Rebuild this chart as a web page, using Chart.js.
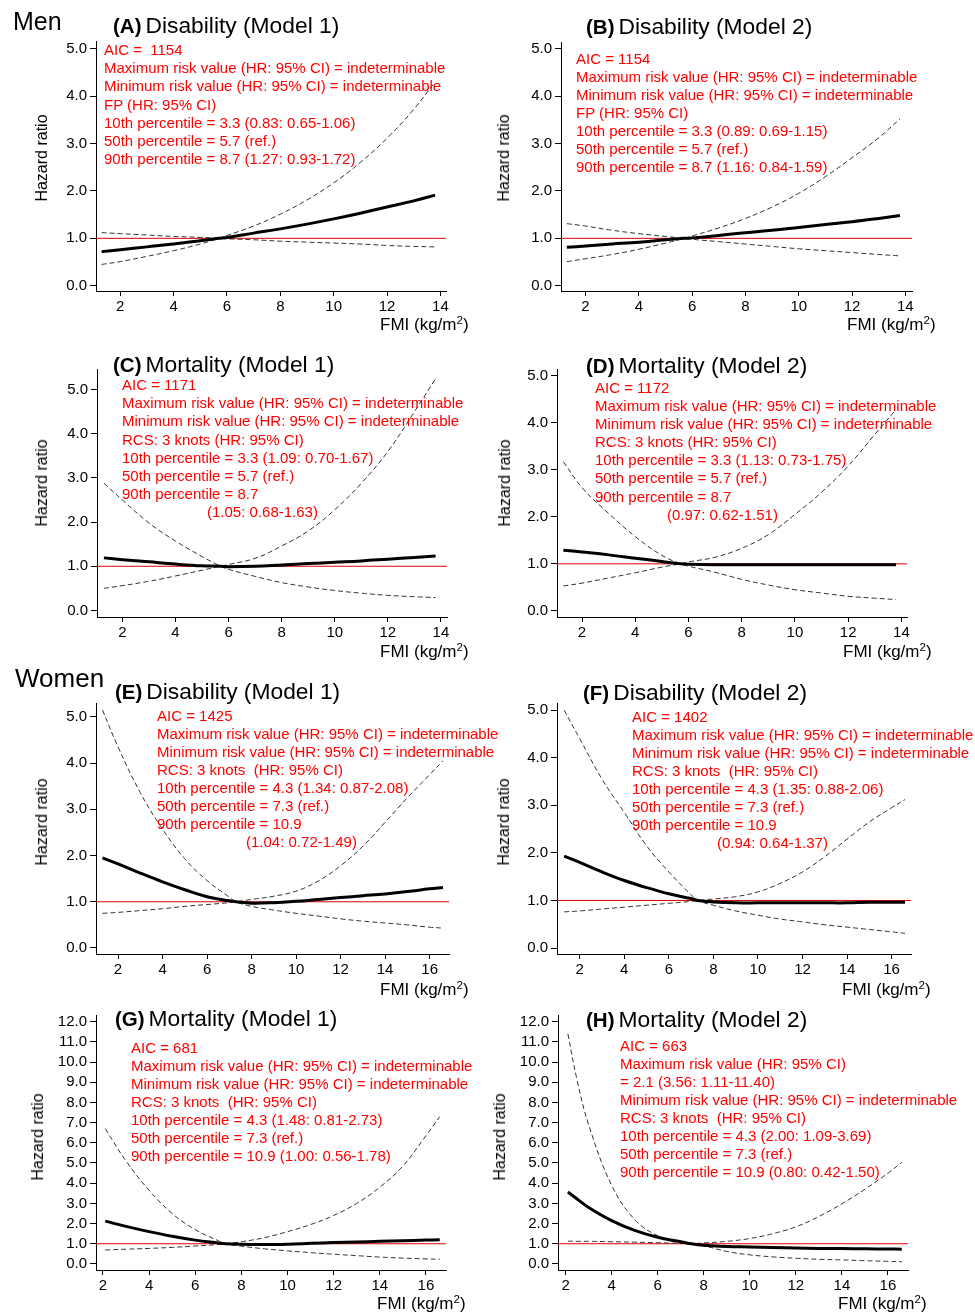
<!DOCTYPE html>
<html>
<head>
<meta charset="UTF-8">
<title>FMI and hazard ratio</title>
<script src="https://cdn.jsdelivr.net/npm/chart.js"></script>
<style>
body { margin:0; background:#fff; font-family:"Liberation Sans", Arial, Helvetica, sans-serif; }
#wrap { position:relative; width:975px; height:1314px; overflow:hidden; }
#wrap canvas { position:absolute; }
.grp { position:absolute; white-space:pre; color:#000; line-height:28px; }
.ttl { position:absolute; white-space:pre; color:#000; font-size:22.8px; line-height:26px; }
.ttl b { font-size:20.5px; margin-right:4px; }
.note { position:absolute; white-space:pre; color:#f00; font-size:15px; }
.yt { position:absolute; white-space:nowrap; font-size:16px; line-height:18px; transform:translate(-50%,-50%) rotate(-90deg); }
.xt { position:absolute; white-space:nowrap; font-size:17px; line-height:20px; }
.xt span { font-size:11.5px; position:relative; top:-6px; }
</style>
</head>
<body>
<div id="wrap"></div>
<script>
// x grid (FMI, kg/m2)
const fmiMen = [1.3, 2, 3, 4, 5, 5.7, 6, 7, 8, 9, 10, 11, 12, 13, 13.8];
const fmiWomen = [1.3, 2, 3, 4, 5, 6, 7, 7.3, 8, 9, 10, 11, 12, 13, 14, 15, 16, 16.6];
const fmiWomenMort = [2.1, 3, 4, 5, 6, 7, 7.3, 8, 9, 10, 11, 12, 13, 14, 15, 16, 16.6];
const fmiH = [2.1, 2.5, 3, 4, 5, 6, 7, 7.3, 8, 9, 10, 11, 12, 13, 14, 15, 16, 16.6];

// ticks
const refHR = 1.0;
const yTicks5 = [0, 1, 2, 3, 4, 5];
const yTicks12 = [0, 1, 2, 3, 4, 5, 6, 7, 8, 9, 10, 11, 12];
const xTicksMen = [2, 4, 6, 8, 10, 12, 14];
const xTicksWomen = [2, 4, 6, 8, 10, 12, 14, 16];

// (A) men disability model 1
const hrA   = [0.72, 0.76, 0.82, 0.88, 0.95, 1.00, 1.02, 1.11, 1.20, 1.30, 1.41, 1.53, 1.66, 1.79, 1.91];
const riseA = [0.45, 0.51, 0.62, 0.74, 0.88, 1.00, 1.06, 1.26, 1.51, 1.81, 2.17, 2.60, 3.11, 3.72, 4.30];
const fallA = [1.12, 1.10, 1.07, 1.04, 1.02, 1.00, 0.99, 0.97, 0.94, 0.92, 0.90, 0.88, 0.85, 0.83, 0.82];
// (B) men disability model 2
const hrB   = [0.81, 0.84, 0.88, 0.92, 0.97, 1.00, 1.01, 1.06, 1.12, 1.17, 1.23, 1.29, 1.35, 1.42, 1.48];
const riseB = [0.51, 0.57, 0.66, 0.77, 0.90, 1.00, 1.05, 1.22, 1.42, 1.66, 1.95, 2.30, 2.70, 3.12, 3.52];
const fallB = [1.31, 1.26, 1.17, 1.10, 1.04, 1.00, 0.98, 0.93, 0.88, 0.83, 0.78, 0.74, 0.70, 0.66, 0.63];
// (C) men mortality model 1
const hrC   = [1.19, 1.15, 1.10, 1.05, 1.01, 1.00, 0.99, 1.00, 1.03, 1.06, 1.09, 1.12, 1.16, 1.20, 1.23];
const riseC = [0.50, 0.56, 0.66, 0.78, 0.91, 1.00, 1.04, 1.18, 1.46, 1.80, 2.28, 2.88, 3.60, 4.50, 5.25];
const fallC = [2.88, 2.50, 1.98, 1.57, 1.22, 1.00, 0.93, 0.77, 0.63, 0.53, 0.45, 0.39, 0.34, 0.31, 0.29];
// (D) men mortality model 2
const hrD   = [1.29, 1.25, 1.19, 1.12, 1.05, 1.00, 0.99, 0.98, 0.98, 0.98, 0.98, 0.98, 0.98, 0.98, 0.98];
const riseD = [0.53, 0.59, 0.70, 0.81, 0.93, 1.00, 1.04, 1.14, 1.33, 1.62, 2.05, 2.52, 3.08, 3.75, 4.28];
const fallD = [3.17, 2.62, 2.07, 1.58, 1.18, 1.00, 0.95, 0.82, 0.67, 0.55, 0.45, 0.38, 0.31, 0.27, 0.24];
// (E) women disability model 1
const hrE   = [1.95, 1.82, 1.62, 1.43, 1.26, 1.11, 1.02, 1.00, 0.97, 0.98, 1.01, 1.05, 1.09, 1.13, 1.17, 1.22, 1.28, 1.31];
const riseE = [0.75, 0.77, 0.81, 0.85, 0.90, 0.94, 0.98, 1.00, 1.05, 1.12, 1.23, 1.45, 1.78, 2.20, 2.72, 3.25, 3.75, 4.05];
const fallE = [5.15, 4.35, 3.36, 2.57, 1.93, 1.46, 1.10, 1.00, 0.90, 0.82, 0.75, 0.69, 0.63, 0.58, 0.54, 0.50, 0.45, 0.43];
// (F) women disability model 2
const hrF   = [1.93, 1.80, 1.60, 1.42, 1.27, 1.14, 1.04, 1.00, 0.97, 0.95, 0.95, 0.95, 0.95, 0.95, 0.95, 0.96, 0.96, 0.96];
const riseF = [0.76, 0.78, 0.82, 0.86, 0.90, 0.94, 0.98, 1.00, 1.03, 1.08, 1.18, 1.36, 1.60, 1.92, 2.29, 2.65, 2.95, 3.12];
const fallF = [5.00, 4.40, 3.55, 2.85, 2.15, 1.60, 1.12, 1.00, 0.90, 0.78, 0.69, 0.61, 0.55, 0.49, 0.44, 0.39, 0.34, 0.31];
// (G) women mortality model 1
const hrG   = [2.12, 1.86, 1.60, 1.37, 1.18, 1.04, 1.00, 0.97, 0.96, 0.98, 1.02, 1.06, 1.09, 1.12, 1.15, 1.18, 1.20];
const riseG = [0.69, 0.73, 0.77, 0.82, 0.89, 0.96, 1.00, 1.10, 1.30, 1.60, 1.95, 2.40, 3.00, 3.80, 4.85, 6.35, 7.30];
const fallG = [6.70, 5.10, 3.65, 2.50, 1.70, 1.15, 1.00, 0.88, 0.75, 0.65, 0.56, 0.48, 0.41, 0.34, 0.29, 0.25, 0.23];
// (H) women mortality model 2
const hrH   = [3.56, 3.22, 2.80, 2.15, 1.66, 1.32, 1.10, 1.03, 0.92, 0.87, 0.84, 0.81, 0.79, 0.77, 0.76, 0.75, 0.74, 0.73];
const riseH = [1.13, 1.12, 1.12, 1.10, 1.08, 1.05, 1.02, 1.00, 1.04, 1.12, 1.26, 1.50, 1.84, 2.35, 2.98, 3.70, 4.50, 5.03];
const fallH = [11.4, 9.10, 6.90, 3.90, 2.20, 1.40, 1.10, 1.03, 0.90, 0.62, 0.45, 0.35, 0.28, 0.23, 0.20, 0.16, 0.13, 0.11];

// annotations
const noteA = ["AIC =  1154", "Maximum risk value (HR: 95% CI) = indeterminable", "Minimum risk value (HR: 95% CI) = indeterminable",
  "FP (HR: 95% CI)", "10th percentile = 3.3 (0.83: 0.65-1.06)", "50th percentile = 5.7 (ref.)", "90th percentile = 8.7 (1.27: 0.93-1.72)"];
const noteB = ["AIC = 1154", "Maximum risk value (HR: 95% CI) = indeterminable", "Minimum risk value (HR: 95% CI) = indeterminable",
  "FP (HR: 95% CI)", "10th percentile = 3.3 (0.89: 0.69-1.15)", "50th percentile = 5.7 (ref.)", "90th percentile = 8.7 (1.16: 0.84-1.59)"];
const noteC = ["AIC = 1171", "Maximum risk value (HR: 95% CI) = indeterminable", "Minimum risk value (HR: 95% CI) = indeterminable",
  "RCS: 3 knots (HR: 95% CI)", "10th percentile = 3.3 (1.09: 0.70-1.67)", "50th percentile = 5.7 (ref.)", "90th percentile = 8.7", "(1.05: 0.68-1.63)"];
const noteD = ["AIC = 1172", "Maximum risk value (HR: 95% CI) = indeterminable", "Minimum risk value (HR: 95% CI) = indeterminable",
  "RCS: 3 knots (HR: 95% CI)", "10th percentile = 3.3 (1.13: 0.73-1.75)", "50th percentile = 5.7 (ref.)", "90th percentile = 8.7", "(0.97: 0.62-1.51)"];
const noteE = ["AIC = 1425", "Maximum risk value (HR: 95% CI) = indeterminable", "Minimum risk value (HR: 95% CI) = indeterminable",
  "RCS: 3 knots  (HR: 95% CI)", "10th percentile = 4.3 (1.34: 0.87-2.08)", "50th percentile = 7.3 (ref.)", "90th percentile = 10.9", "(1.04: 0.72-1.49)"];
const noteF = ["AIC = 1402", "Maximum risk value (HR: 95% CI) = indeterminable", "Minimum risk value (HR: 95% CI) = indeterminable",
  "RCS: 3 knots  (HR: 95% CI)", "10th percentile = 4.3 (1.35: 0.88-2.06)", "50th percentile = 7.3 (ref.)", "90th percentile = 10.9", "(0.94: 0.64-1.37)"];
const noteG = ["AIC = 681", "Maximum risk value (HR: 95% CI) = indeterminable", "Minimum risk value (HR: 95% CI) = indeterminable",
  "RCS: 3 knots  (HR: 95% CI)", "10th percentile = 4.3 (1.48: 0.81-2.73)", "50th percentile = 7.3 (ref.)", "90th percentile = 10.9 (1.00: 0.56-1.78)"];
const noteH = ["AIC = 663", "Maximum risk value (HR: 95% CI)", "= 2.1 (3.56: 1.11-11.40)", "Minimum risk value (HR: 95% CI) = indeterminable",
  "RCS: 3 knots  (HR: 95% CI)", "10th percentile = 4.3 (2.00: 1.09-3.69)", "50th percentile = 7.3 (ref.)", "90th percentile = 10.9 (0.80: 0.42-1.50)"];

// layout: plot = [left, top, right, bottom] px
const panels = [
  {tag:'(A)', name:'Disability (Model 1)', fmi:fmiMen, hr:hrA, rise:riseA, fall:fallA, note:noteA, xt:xTicksMen, yt:yTicks5,
   plot:[96,39,446,291], xr:[1.09,14.21], yr:[-0.11,5.16], title:[113,25], noteAt:[104,50,18.2,0], yTitle:[42,158], xTitle:[380,325]},
  {tag:'(B)', name:'Disability (Model 2)', fmi:fmiMen, hr:hrB, rise:riseB, fall:fallB, note:noteB, xt:xTicksMen, yt:yTicks5,
   plot:[561,40,912,291], xr:[1.08,14.25], yr:[-0.11,5.14], title:[586,26], noteAt:[576,59,18,0], yTitle:[504,158], xTitle:[847,325]},
  {tag:'(C)', name:'Mortality (Model 1)', fmi:fmiMen, hr:hrC, rise:riseC, fall:fallC, note:noteC, xt:xTicksMen, yt:yTicks5,
   plot:[97,367,447,617], xr:[1.04,14.23], yr:[-0.15,5.47], title:[113,364], noteAt:[122,385,18.2,85], yTitle:[42,483], xTitle:[380,652]},
  {tag:'(D)', name:'Mortality (Model 2)', fmi:fmiMen, hr:hrD, rise:riseD, fall:fallD, note:noteD, xt:xTicksMen, yt:yTicks5,
   plot:[557,367,907,617], xr:[1.06,14.21], yr:[-0.13,5.14], title:[586,365], noteAt:[595,388,18.1,72], yTitle:[505,483], xTitle:[843,652]},
  {tag:'(E)', name:'Disability (Model 1)', fmi:fmiWomen, hr:hrE, rise:riseE, fall:fallE, note:noteE, xt:xTicksWomen, yt:yTicks5,
   plot:[96,701,449,954], xr:[1.01,16.87], yr:[-0.13,5.3], title:[115,691], noteAt:[157,716,18,89], yTitle:[42,822], xTitle:[380,990]},
  {tag:'(F)', name:'Disability (Model 2)', fmi:fmiWomen, hr:hrF, rise:riseF, fall:fallF, note:noteF, xt:xTicksWomen, yt:yTicks5,
   plot:[557,701,911,954], xr:[0.98,16.87], yr:[-0.125,5.15], title:[583,692], noteAt:[632,717,18,85], yTitle:[504,822], xTitle:[842,990]},
  {tag:'(G)', name:'Mortality (Model 1)', fmi:fmiWomenMort, hr:hrG, rise:riseG, fall:fallG, note:noteG, xt:xTicksWomen, yt:yTicks12,
   plot:[96,1013,446,1270], xr:[1.7,16.87], yr:[-0.3,12.33], title:[115,1018], noteAt:[131,1048,18,0], yTitle:[38,1137], xTitle:[377,1304]},
  {tag:'(H)', name:'Mortality (Model 2)', fmi:fmiH, hr:hrH, rise:riseH, fall:fallH, note:noteH, xt:xTicksWomen, yt:yTicks12,
   plot:[558,1013,908,1270], xr:[1.67,16.87], yr:[-0.3,12.33], title:[586,1019], noteAt:[620,1046,18.05,0], yTitle:[500,1137], xTitle:[838,1304]}
];

Chart.defaults.font.family = '"Liberation Sans", Arial, Helvetica, sans-serif';
Chart.defaults.color = '#000';

const wrap = document.getElementById('wrap');

function addDiv(cls, html, left, top, css) {
  const d = document.createElement('div');
  d.className = cls;
  d.innerHTML = html;
  d.style.left = left + 'px';
  d.style.top = top + 'px';
  if (css) d.style.cssText += css;
  wrap.appendChild(d);
  return d;
}

function pts(xs, ys) {
  return xs.map(function(x, i){ return {x: x, y: ys[i]}; });
}

panels.forEach(function(p){
  const colLeft = p.plot[0] < 480 ? 0 : 484;
  const colW = colLeft ? 491 : 484;
  const top = p.plot[1] - 10;
  const h = p.plot[3] - p.plot[1] + 50;

  const cv = document.createElement('canvas');
  cv.width = colW; cv.height = h;
  cv.style.left = colLeft + 'px'; cv.style.top = top + 'px';
  cv.style.width = colW + 'px'; cv.style.height = h + 'px';
  wrap.appendChild(cv);

  const dash = {borderColor:'#333', borderWidth:1, borderDash:[5,3], pointRadius:0, tension:0.4, fill:false};

  new Chart(cv, {
    type: 'line',
    data: {
      datasets: [
        {data: pts(p.fmi, p.hr), borderColor:'#000', borderWidth:3, pointRadius:0, tension:0.4, fill:false},
        Object.assign({data: pts(p.fmi, p.rise)}, dash),
        Object.assign({data: pts(p.fmi, p.fall)}, dash),
        {data: [{x:p.xr[0], y:refHR}, {x:p.xr[1], y:refHR}], borderColor:'#e00000', borderWidth:1, pointRadius:0, fill:false}
      ]
    },
    options: {
      responsive: false,
      animation: false,
      devicePixelRatio: 1,
      layout: {autoPadding:false, padding:{top:10, right: colLeft + colW - p.plot[2], left:0, bottom:0}},
      plugins: {legend:{display:false}, tooltip:{enabled:false}},
      scales: {
        x: {
          type: 'linear', min: p.xr[0], max: p.xr[1],
          afterFit: function(s){ s.height = 40; },
          afterBuildTicks: function(s){ s.ticks = p.xt.map(function(v){ return {value:v}; }); },
          grid: {drawOnChartArea:false, tickLength:5, color:'#000'},
          border: {display:true, color:'#000', width:1},
          ticks: {font:{size:15}, padding:2, maxRotation:0, autoSkip:false, callback: function(v){ return v; }}
        },
        y: {
          type: 'linear', min: p.yr[0], max: p.yr[1],
          afterFit: function(s){ s.width = p.plot[0] - colLeft; },
          afterBuildTicks: function(s){ s.ticks = p.yt.map(function(v){ return {value:v}; }); },
          grid: {drawOnChartArea:false, tickLength:6, color:'#000'},
          border: {display:true, color:'#000', width:1},
          ticks: {font:{size:15}, padding:3, autoSkip:false, callback: function(v){ return Number(v).toFixed(1); }}
        }
      }
    }
  }); // chart

  // texts
  addDiv('ttl', '<b>' + p.tag + '</b>' + p.name, p.title[0], p.title[1] - 13);
  const lh = p.noteAt[2];
  const last = p.note.length - 1;
  const html = p.note.map(function(t, i){
    const pad = (i === last && p.noteAt[3]) ? 'padding-left:' + p.noteAt[3] + 'px' : '';
    return '<div style="' + pad + '">' + t + '</div>';
  }).join('');
  addDiv('note', html, p.noteAt[0], p.noteAt[1] - lh / 2, 'line-height:' + lh + 'px');
  addDiv('yt', 'Hazard ratio', p.yTitle[0], p.yTitle[1]);
  addDiv('xt', 'FMI (kg/m<span>2</span>)', p.xTitle[0], p.xTitle[1] - 10);
}); // panels

addDiv('grp', 'Men', 13, 7, 'font-size:25px');
addDiv('grp', 'Women', 15, 664, 'font-size:26px');
</script>
</body>
</html>
